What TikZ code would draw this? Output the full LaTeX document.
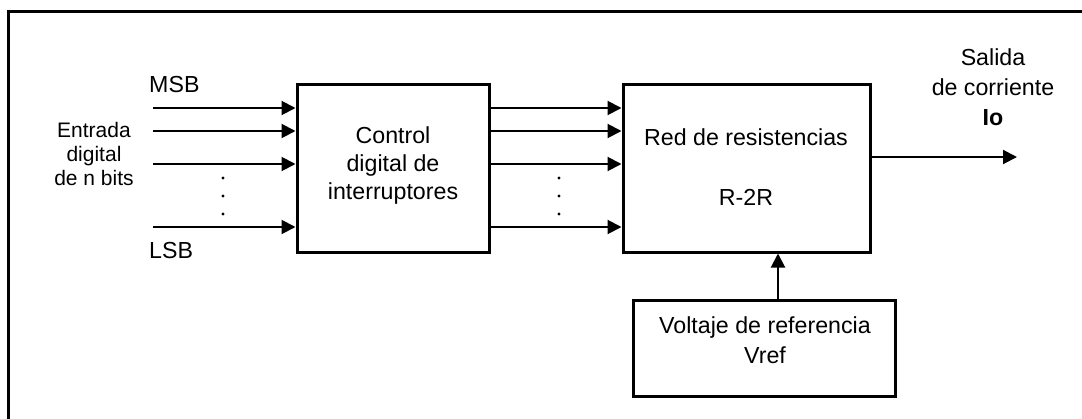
\documentclass[tikz,border=0pt]{standalone}
\usepackage{fontspec}
\setmainfont{Liberation Sans}
\usetikzlibrary{arrows.meta}
\begin{document}
\begin{tikzpicture}[x=1pt,y=-1pt,
  blk/.style={draw,line width=3pt,inner sep=0pt,minimum width=#1},
  txt/.style={inner sep=0pt,align=center,font=\fontsize{23.2}{28}\selectfont},
  arr/.style={line width=2pt,-{Triangle[length=14pt,width=14pt]}},
  dot/.style={fill,circle,inner sep=0pt,minimum size=3.4pt}]
\useasboundingbox (0,0) rectangle (1082,418);
\draw[line width=3pt] (1084,11) -- (8,11) -- (8,420);
% blocks
\node[blk=192pt,minimum height=168pt] (ctrl) at (393,168) {};
\node[blk=247pt,minimum height=168pt] (red) at (746.5,168) {};
\node[blk=262pt,minimum height=96pt] (vref) at (764,348) {};
% texts
\node[txt] (ctrltxt) at (393,165) {Control\\digital de\\interruptores};
\node[txt] (redtxt1) at (746,137) {Red de resistencias};
\node[txt] (redtxt2) at (746,197) {R-2R};
\node[txt,font=\fontsize{23.2}{30}\selectfont] (vreftxt) at (765,340) {Voltaje de referencia\\Vref};
\node[txt,font=\fontsize{23.2}{30}\selectfont] (outtxt) at (993,87) {Salida\\de corriente\\\textbf{Io}};
\node[txt,font=\fontsize{21}{24}\selectfont] (intxt) at (94,154) {Entrada\\digital\\de n bits};
\node[txt,anchor=base west] (msb) at (149,92) {MSB};
\node[txt,anchor=base west] (lsb) at (149,258) {LSB};
% input coordinates
\coordinate (i1) at (153,108);
\coordinate (i2) at (153,131);
\coordinate (i3) at (153,164);
\coordinate (i4) at (153,227);
\foreach \c in {i1,i2,i3,i4}{
  \draw[arr] (\c) -- (\c -| ctrl.west);
  \draw[arr] (\c -| ctrl.east) -- (\c -| red.west);
}
% dots
\foreach \y in {178,196,214}{
  \node[dot] at (223,\y) {};
  \node[dot] at (559,\y) {};
}
% output
\coordinate (out) at (1017,157);
\draw[arr] (out -| red.east) -- (out);
% reference
\coordinate (vx) at (778,0);
\draw[arr] (vx |- vref.north) -- (vx |- red.south);
\end{tikzpicture}
\end{document}
